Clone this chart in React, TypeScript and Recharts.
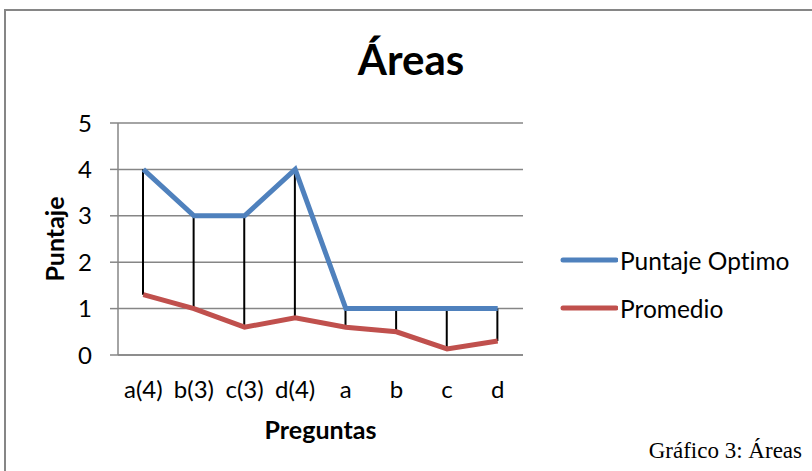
import React from 'react';
import { ComposedChart, Line, Bar, XAxis, YAxis, CartesianGrid, Legend } from 'recharts';

const categories = ['a(4)', 'b(3)', 'c(3)', 'd(4)', 'a', 'b', 'c', 'd'];
const puntajeOptimo = [4, 3, 3, 4, 1, 1, 1, 1];
const promedio = [1.3, 1.0, 0.6, 0.8, 0.6, 0.5, 0.13, 0.3];
const yTicks = [0, 1, 2, 3, 4, 5];
const seriesOrder = ['Puntaje Optimo', 'Promedio'];

const data = categories.map((c, i) => ({
  name: c,
  optimo: puntajeOptimo[i],
  promedio: promedio[i],
  range: [promedio[i], puntajeOptimo[i]],
}));

const FONT = 'Lato, "Open Sans", sans-serif';
const GRAY = '#868686';

const LegendContent = (props: any) => {
  const items = (props.payload || [])
    .filter((p: any) => p.type !== 'none')
    .sort((a: any, b: any) => seriesOrder.indexOf(a.value) - seriesOrder.indexOf(b.value));
  return (
    <div style={{ fontFamily: FONT, fontSize: 24.5, color: '#000', fontVariantLigatures: 'none' }}>
      {items.map((p: any) => (
        <div key={p.value} style={{ display: 'flex', alignItems: 'center', height: 48 }}>
          <svg width={58} height={10} style={{ marginRight: 2 }}>
            <line x1={3} y1={5} x2={56} y2={5} stroke={p.color} strokeWidth={5} strokeLinecap="round" />
          </svg>
          <span>{p.value}</span>
        </div>
      ))}
    </div>
  );
};

export default function App() {
  return (
    <div style={{ position: 'absolute', left: 0, top: 0, width: 812, height: 471, overflow: 'hidden', background: '#fff' }}>
      <div style={{ position: 'absolute', left: 4, top: 9, width: 1000, height: 1000, borderTop: `2px solid ${GRAY}`, borderLeft: `2px solid ${GRAY}` }} />
      <div style={{ position: 'absolute', left: 0, top: 37, width: 822, textAlign: 'center', fontFamily: FONT, fontWeight: 'bold', fontSize: 42, lineHeight: '44px' }}>
        Áreas
      </div>
      <div style={{ position: 'absolute', right: 10, top: 438, fontFamily: '"Liberation Serif", "DejaVu Serif", serif', fontSize: 23, lineHeight: '26px' }}>
        Gráfico 3: Áreas
      </div>
      <ComposedChart
        width={812}
        height={471}
        data={data}
        margin={{ top: 123, right: 289, bottom: 56, left: 48 }}
        style={{ position: 'absolute', left: 0, top: 0 }}
      >
        <CartesianGrid horizontal={true} vertical={false} stroke={GRAY} strokeWidth={1.5} />
        <XAxis
          dataKey="name"
          height={60}
          tickLine={false}
          axisLine={{ stroke: GRAY, strokeWidth: 1.5 }}
          tick={{ fontFamily: FONT, fontSize: 24, fill: '#000' }}
          tickSize={8}
          tickMargin={18}
          interval={0}
          label={(props: any) => {
            const vb = props.viewBox;
            return (
              <text x={vb.x + vb.width / 2} y={439} textAnchor="middle" fontFamily={FONT} fontWeight="bold" fontSize={25} fill="#000">
                Preguntas
              </text>
            );
          }}
        />
        <YAxis
          width={70}
          domain={[0, 5]}
          ticks={yTicks}
          interval={0}
          tickSize={8}
          tickMargin={18}
          tickLine={{ stroke: GRAY, strokeWidth: 1.5 }}
          axisLine={{ stroke: GRAY, strokeWidth: 1.5 }}
          tick={{ fontFamily: FONT, fontSize: 24, fill: '#000' }}
          label={(props: any) => {
            const vb = props.viewBox;
            const cx = 64;
            const cy = vb.y + vb.height / 2;
            return (
              <text x={cx} y={cy} transform={`rotate(-90 ${cx} ${cy})`} textAnchor="middle" fontFamily={FONT} fontWeight="bold" fontSize={25} fill="#000">
                Puntaje
              </text>
            );
          }}
        />
        <Line dataKey="optimo" name="Puntaje Optimo" stroke="#4F81BD" strokeWidth={5} dot={false} isAnimationActive={false} />
        <Line dataKey="promedio" name="Promedio" stroke="#C0504D" strokeWidth={5} dot={false} isAnimationActive={false} />
        <Bar dataKey="range" fill="#000" barSize={2} legendType="none" isAnimationActive={false} />
        <Legend
          layout="vertical"
          align="center"
          verticalAlign="middle"
          content={LegendContent}
          wrapperStyle={{ left: 560, top: 236, width: 252 }}
        />
      </ComposedChart>
    </div>
  );
}
